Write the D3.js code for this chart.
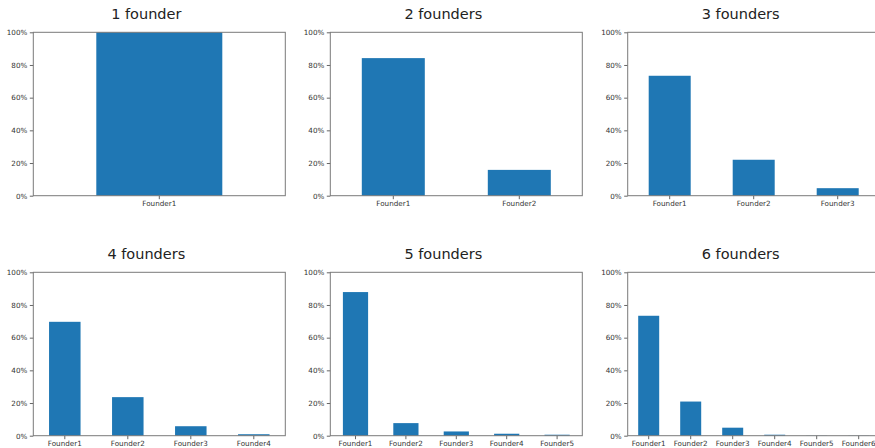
<!DOCTYPE html>
<html>
<head>
<meta charset="utf-8">
<script src="https://cdn.jsdelivr.net/npm/d3@7"></script>
<style>
  body { margin: 0; background: #fff; }
  svg { display: block; }
  .tick text { font-family: "DejaVu Sans", sans-serif; font-size: 7.2px; fill: #333; }
  .tick line { stroke: #666; }
  .title { font-family: "DejaVu Sans", sans-serif; font-size: 14.5px; fill: #222; }
</style>
</head>
<body>
<svg id="chart" width="875" height="448"></svg>
<script>
// Share of equity held by each founder, grouped by team size
const panelTitles = ["1 founder", "2 founders", "3 founders", "4 founders", "5 founders", "6 founders"];
const founderLabels = ["Founder1", "Founder2", "Founder3", "Founder4", "Founder5", "Founder6"];
const shares1 = [100];
const shares2 = [84.2, 15.8];
const shares3 = [73.4, 22.0, 4.6];
const shares4 = [69.7, 23.6, 5.8, 0.9];
const shares5 = [87.9, 7.7, 2.6, 1.2, 0.6];
const shares6 = [73.4, 20.9, 4.9, 0.6, 0.1, 0.1];
const yTicks = [0, 20, 40, 60, 80, 100];

const allShares = [shares1, shares2, shares3, shares4, shares5, shares6];

const svg = d3.select("#chart");
const plotW = 252, plotH = 163.4;
const colX = [33.3, 330.3, 627.7];
const rowY = [32.3, 272.3];

allShares.forEach((values, i) => {
  const left = colX[i % 3];
  const top = rowY[Math.floor(i / 3)];
  const cats = founderLabels.slice(0, values.length);

  const x = d3.scaleBand().domain(cats).range([0, plotW]).paddingInner(0.5).paddingOuter(0.25);
  const y = d3.scaleLinear().domain([0, 100]).range([plotH, 0]);

  const g = svg.append("g").attr("transform", `translate(${left},${top})`);

  g.selectAll("rect.bar")
    .data(values)
    .join("rect")
    .attr("class", "bar")
    .attr("x", (d, j) => x(cats[j]))
    .attr("width", x.bandwidth())
    .attr("y", d => y(d))
    .attr("height", d => plotH - y(d))
    .attr("fill", "#1f77b4");

  const yAxis = g.append("g")
    .call(d3.axisLeft(y).tickValues(yTicks).tickSize(3.5).tickPadding(2.5).tickFormat(d => d + "%"));
  yAxis.select(".domain").remove();

  const xAxis = g.append("g")
    .attr("transform", `translate(0,${plotH})`)
    .call(d3.axisBottom(x).tickSize(3.5).tickPadding(1.5));
  xAxis.select(".domain").remove();

  g.append("rect")
    .attr("x", 0).attr("y", 0)
    .attr("width", plotW).attr("height", plotH)
    .attr("fill", "none")
    .attr("stroke", "#7a7a7a")
    .attr("stroke-width", 1);

  g.append("text")
    .attr("class", "title")
    .attr("x", 113)
    .attr("y", -13.5)
    .attr("text-anchor", "middle")
    .text(panelTitles[i]);
});
</script>
</body>
</html>
